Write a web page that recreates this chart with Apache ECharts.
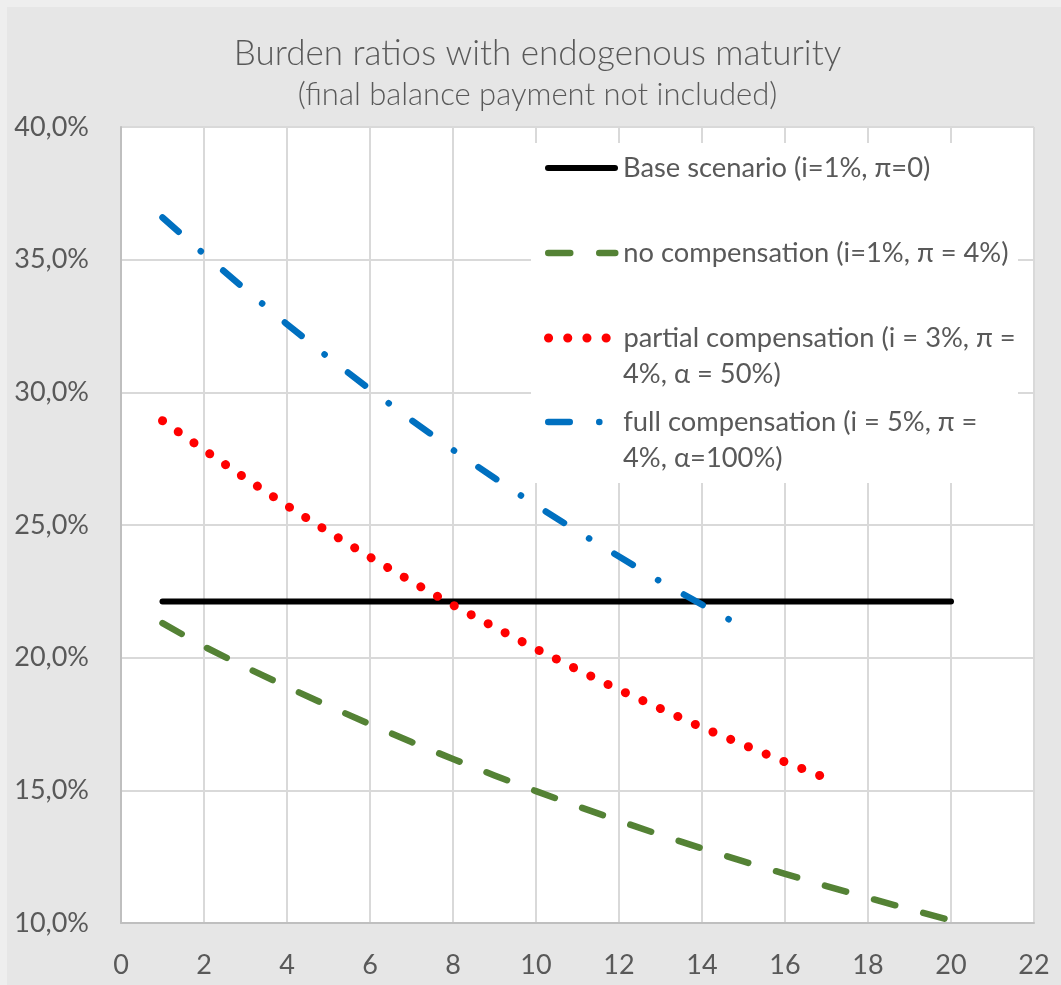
<!DOCTYPE html>
<html>
<head>
<meta charset="utf-8">
<script src="https://cdn.jsdelivr.net/npm/echarts@6/dist/echarts.min.js"></script>
<style>
html,body{margin:0;padding:0;background:#e6e6e6;}
#chart{width:1061px;height:985px;}
</style>
</head>
<body>
<div id="chart"></div>
<script>
// ---- data (values in %) ----
const years = [1,2,3,4,5,6,7,8,9,10,11,12,13,14,15,16,17,18,19,20];
const baseScenario = [22.12,22.12,22.12,22.12,22.12,22.12,22.12,22.12,22.12,22.12,22.12,22.12,22.12,22.12,22.12,22.12,22.12,22.12,22.12,22.12];
const noCompensation = [21.30,20.42,19.64,18.90,18.18,17.49,16.82,16.18,15.56,14.97,14.40,13.85,13.32,12.81,12.32,11.85,11.39,10.95,10.52,10.10];
const partialCompensation = [28.93,27.83,26.76,25.73,24.74,23.79,22.87,21.98,21.15,20.33,19.55,18.79,18.08,17.37,16.72,16.07,15.46];
const fullCompensation = [36.59,35.21,33.87,32.57,31.31,30.11,28.95,27.83,26.77,25.74,24.76,23.81,22.87,22.00,21.14];
const seriesNames = [
  'Base scenario (i=1%, π=0)',
  'no compensation (i=1%, π = 4%)',
  'partial compensation (i = 3%, π = 4%, α = 50%)',
  'full compensation (i = 5%, π = 4%, α=100%)'
];
const legendLines = [
  ['Base scenario (i=1%, π=0)'],
  ['no compensation (i=1%, π = 4%)'],
  ['partial compensation (i = 3%, π =', '4%, α = 50%)'],
  ['full compensation (i = 5%, π =', '4%, α=100%)']
];
const titleText = 'Burden ratios with endogenous maturity';
const subtitleText = '(final balance payment not included)';

function pairs(vals){ return vals.map((v,i)=>[years[i], v]); }

const FONT = 'Lato, "Open Sans", sans-serif';
const TXT = '#595959';

const chart = echarts.init(document.getElementById('chart'), null, {renderer:'canvas'});

function legendFor(idx, top, left, lineWidth){
  const text = legendLines[idx][0];
  return {
    data:[seriesNames[idx]],
    left:left, top:top, orient:'vertical', padding:0,
    itemWidth:67, itemHeight:10, selectedMode:false,
    formatter: () => text,
    textStyle:{fontFamily:FONT, fontSize:27.3, color:TXT, lineHeight:36, padding:[0,0,0,3]},
    itemStyle:{opacity:0},
    lineStyle:{width:lineWidth}
  };
}
// continuation line of a wrapped legend label, aligned with the first line's text start
function legendContinuation(idx, top){
  return {type:'text', left:623, top:top, z:10,
    style:{text:legendLines[idx][1], font:'27.3px Lato, "Open Sans", sans-serif', fill:TXT, lineHeight:36}};
}

chart.setOption({
  backgroundColor:'#e6e6e6',
  animation:false,
  title:{
    text:titleText, subtext:subtitleText,
    left:537.5, textAlign:'center', top:33, padding:0, itemGap:3,
    textStyle:{fontFamily:FONT, fontWeight:300, fontSize:35, color:TXT, lineHeight:42},
    subtextStyle:{fontFamily:FONT, fontWeight:300, fontSize:31, color:TXT, lineHeight:34}
  },
  graphic:[
    {type:'rect', left:0, top:0, shape:{width:1061, height:7}, style:{fill:'#eeeeee'}, z:0},
    {type:'rect', left:0, top:0, shape:{width:7, height:985}, style:{fill:'#eeeeee'}, z:0},
    {type:'rect', left:531, top:143, shape:{width:487, height:340}, style:{fill:'#ffffff'}, z:1},
    legendContinuation(2, 356),
    legendContinuation(3, 440)
  ],
  legend:[
    legendFor(0, 150, 545, 6),
    legendFor(1, 235, 545, 6.5),
    legendFor(2, 320, 544, 9),
    legendFor(3, 404, 545, 6.5)
  ],
  grid:{left:121, right:27, top:127, bottom:62, show:true, backgroundColor:'#ffffff', borderWidth:0},
  xAxis:{
    type:'value', min:0, max:22, interval:2,
    axisLine:{show:true, lineStyle:{color:'#bfbfbf', width:2}},
    axisTick:{show:false},
    splitLine:{show:true, lineStyle:{color:'#d9d9d9', width:2}},
    axisLabel:{fontFamily:FONT, fontSize:27, color:TXT, margin:29}
  },
  yAxis:{
    type:'value', min:10, max:40, interval:5,
    axisLine:{show:true, lineStyle:{color:'#bfbfbf', width:2}},
    axisTick:{show:false},
    splitLine:{show:true, lineStyle:{color:'#d9d9d9', width:2}},
    axisLabel:{fontFamily:FONT, fontSize:27, color:TXT, margin:32,
      formatter: v => v.toFixed(1).replace('.', ',') + '%'}
  },
  series:[
    {name:seriesNames[0], type:'line', data:pairs(baseScenario), symbol:'none', z:3,
      lineStyle:{color:'#000000', width:6, cap:'round', join:'round'}, itemStyle:{color:'#000000'}},
    {name:seriesNames[1], type:'line', data:pairs(noCompensation), symbol:'none', z:3,
      lineStyle:{color:'#548235', width:6.5, type:[22,29], cap:'round', join:'round'}, itemStyle:{color:'#548235'}},
    {name:seriesNames[2], type:'line', data:pairs(partialCompensation), symbol:'none', z:3,
      lineStyle:{color:'#ff0000', width:9, type:[0.1,19.1], cap:'round', join:'round'}, itemStyle:{color:'#ff0000'}},
    {name:seriesNames[3], type:'line', data:pairs(fullCompensation), symbol:'none', z:3,
      lineStyle:{color:'#0070c0', width:6.5, type:[21.5,29.5,0.1,29.5], cap:'round', join:'round'}, itemStyle:{color:'#0070c0'}}
  ]
});
</script>
</body>
</html>
